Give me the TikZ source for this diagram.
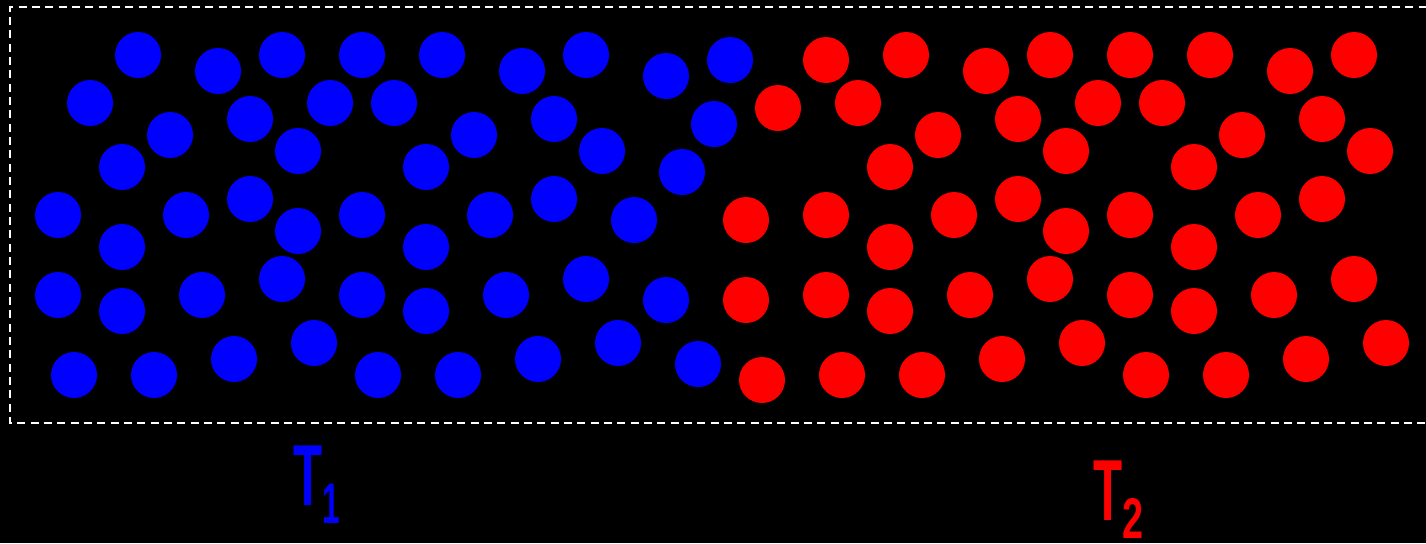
\documentclass[tikz,border=0pt]{standalone}
\usepackage{fontspec}
\setmainfont{Liberation Sans}
\begin{document}
\begin{tikzpicture}[x=0.75pt,y=-0.75pt,
  cold/.style={fill=blue},
  hot/.style={fill=red},
  wall/.style={draw=white,line width=1.3pt,dash pattern=on 6pt off 4pt},
  lbl/.style={anchor=base west,inner sep=0pt,font=\bfseries}]
\useasboundingbox (0,0) rectangle (1426,543);
\fill[black] (0,0) rectangle (1426,543);
\draw[wall] (1440,7) -- (10,7) -- (10,423) -- (1440,423);
\foreach \x/\y in {138/55,282/55,362/55,442/55,586/55,
  218/71,522/71,666/76,730/60,
  90/103,330/103,394/103,
  250/119,554/119,714/124,
  170/135,474/135,
  298/151,602/151,
  122/167,426/167,682/172,
  250/199,554/199,
  58/215,186/215,362/215,490/215,634/220,
  298/231,
  122/247,426/247,
  282/279,586/279,
  58/295,202/295,362/295,506/295,666/300,
  122/311,426/311,
  314/343,618/343,
  234/359,538/359,698/364,
  74/375,154/375,378/375,458/375}
  \fill[cold] (\x,\y) circle[radius=17.25pt];
\foreach \x/\y in {826/60,906/55,1050/55,1130/55,1210/55,1354/55,
  986/71,1290/71,
  778/108,858/103,1098/103,1162/103,
  1018/119,1322/119,
  938/135,1242/135,
  1066/151,1370/151,
  890/167,1194/167,
  1018/199,1322/199,
  746/220,826/215,954/215,1130/215,1258/215,
  1066/231,
  890/247,1194/247,
  1050/279,1354/279,
  746/300,826/295,970/295,1130/295,1274/295,
  890/311,1194/311,
  1082/343,1386/343,
  1002/359,1306/359,
  762/380,842/375,922/375,1146/375,1226/375}
  \fill[hot] (\x,\y) circle[radius=17.25pt];
\node[lbl,text=blue] (t1) at (293,505) {\scalebox{0.55}[1]{\fontsize{65pt}{65pt}\selectfont T\raisebox{-14pt}[0pt][0pt]{\fontsize{43pt}{43pt}\selectfont 1}}};
\node[lbl,text=red] (t2) at (1093,520) {\scalebox{0.55}[1]{\fontsize{65pt}{65pt}\selectfont T\raisebox{-13.5pt}[0pt][0pt]{\fontsize{43pt}{43pt}\selectfont\scalebox{1.2}[1]{2}}}};
\end{tikzpicture}
\end{document}
